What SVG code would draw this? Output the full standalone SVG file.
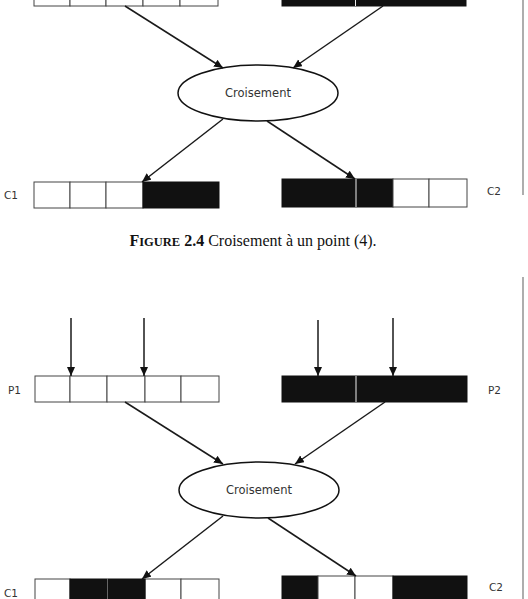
<svg xmlns="http://www.w3.org/2000/svg" width="528" height="599" viewBox="0 0 528 599">
<style>
.w{fill:#fff;stroke:#444;stroke-width:1}
.b{fill:#111;stroke:#111;stroke-width:1}
.wd{stroke:#eee;stroke-width:1}
.e{fill:#fff;stroke:#111;stroke-width:1.5}
.c{stroke:#1a1a1a;stroke-width:1.5;fill:none;marker-end:url(#ah)}
.lbl{font-family:"DejaVu Sans",sans-serif;font-size:10.5px;fill:#333}
.el{font-family:"DejaVu Sans",sans-serif;font-size:11.5px;fill:#333;text-anchor:middle}
.cap{font-family:"Liberation Serif",serif;font-size:16px;fill:#111}
.side{stroke:#777;stroke-width:1.2}
</style>
<defs>
<marker id="ah" markerUnits="userSpaceOnUse" markerWidth="10" markerHeight="10" refX="9" refY="4" orient="auto">
<path d="M0,0 L9,4 L0,8 Z" fill="#111"/>
</marker>
</defs>

<g id="top-P1">
<rect class="w" x="34" y="-20" width="36" height="26"/>
<rect class="w" x="70" y="-20" width="36" height="26"/>
<rect class="w" x="106" y="-20" width="37" height="26"/>
<rect class="w" x="143" y="-20" width="37" height="26"/>
<rect class="w" x="180" y="-20" width="38" height="26"/>
</g>
<g id="top-P2">
<rect class="b" x="282" y="-20" width="184" height="26"/>
<line class="wd" x1="355.5" y1="-20" x2="355.5" y2="6"/>
</g>
<g id="top-cross">
<ellipse class="e" cx="258" cy="93" rx="80" ry="28"/>
<text class="el" x="258" y="97">Croisement</text>
</g>
<g id="top-C1">
<text class="lbl" x="4" y="199">C1</text>
<rect class="w" x="34" y="182" width="36" height="26"/>
<rect class="w" x="70" y="182" width="36" height="26"/>
<rect class="w" x="106" y="182" width="37" height="26"/>
<rect class="b" x="143" y="182" width="76" height="26"/>
</g>
<g id="top-C2">
<rect class="b" x="282" y="179" width="111" height="28"/>
<line class="wd" x1="356" y1="179" x2="356" y2="207"/>
<rect class="w" x="393" y="179" width="36" height="28"/>
<rect class="w" x="429" y="179" width="38" height="28"/>
<text class="lbl" x="487" y="195">C2</text>
</g>
<g id="caption">
<text class="cap" x="253" y="246" text-anchor="middle"><tspan font-weight="bold">F<tspan font-size="12.5px">IGURE</tspan> 2.4</tspan> Croisement à un point (4).</text>
</g>

<g id="bot-P1">
<text class="lbl" x="8" y="394">P1</text>
<rect class="w" x="35" y="376" width="35" height="26"/>
<rect class="w" x="70" y="376" width="37" height="26"/>
<rect class="w" x="107" y="376" width="38" height="26"/>
<rect class="w" x="145" y="376" width="36" height="26"/>
<rect class="w" x="181" y="376" width="38" height="26"/>
</g>
<g id="bot-P2">
<rect class="b" x="282" y="376" width="185" height="26"/>
<line class="wd" x1="356" y1="376" x2="356" y2="402"/>
<text class="lbl" x="488" y="394">P2</text>
</g>
<g id="bot-cross">
<ellipse class="e" cx="259" cy="490" rx="80" ry="28"/>
<text class="el" x="259" y="494">Croisement</text>
</g>
<g id="bot-C1">
<text class="lbl" x="4" y="597">C1</text>
<rect class="w" x="35" y="579" width="35" height="30"/>
<rect class="b" x="70" y="579" width="37" height="30"/>
<line class="wd" x1="108" y1="579" x2="108" y2="599"/>
<rect class="w" x="145" y="579" width="36" height="30"/>
<rect class="w" x="181" y="579" width="38" height="30"/>
<rect class="b" x="108" y="579" width="37" height="30"/>
</g>
<g id="bot-C2">
<rect class="b" x="282" y="576" width="36" height="30"/>
<rect class="w" x="318" y="576" width="37" height="30"/>
<rect class="w" x="355" y="576" width="38" height="30"/>
<rect class="b" x="393" y="576" width="74" height="30"/>
<text class="lbl" x="489" y="591">C2</text>
</g>

<g id="connectors">
<line class="c" x1="125" y1="6" x2="223" y2="68"/>
<line class="c" x1="383" y1="6" x2="293" y2="68"/>
<line class="c" x1="223" y1="119" x2="142" y2="182"/>
<line class="c" x1="267" y1="121" x2="355" y2="179"/>
<line class="c" x1="71" y1="318" x2="71" y2="376"/>
<line class="c" x1="144" y1="318" x2="144" y2="376"/>
<line class="c" x1="318" y1="320" x2="318" y2="376"/>
<line class="c" x1="393" y1="318" x2="393" y2="376"/>
<line class="c" x1="125" y1="402" x2="223" y2="464"/>
<line class="c" x1="385" y1="402" x2="295" y2="464"/>
<line class="c" x1="223" y1="516" x2="142" y2="579"/>
<line class="c" x1="268" y1="518" x2="356" y2="576"/>
</g>
<g id="margin-lines">
<line class="side" x1="523" y1="0" x2="523" y2="195"/>
<line class="side" x1="523" y1="277" x2="523" y2="599"/>
</g>
</svg>
